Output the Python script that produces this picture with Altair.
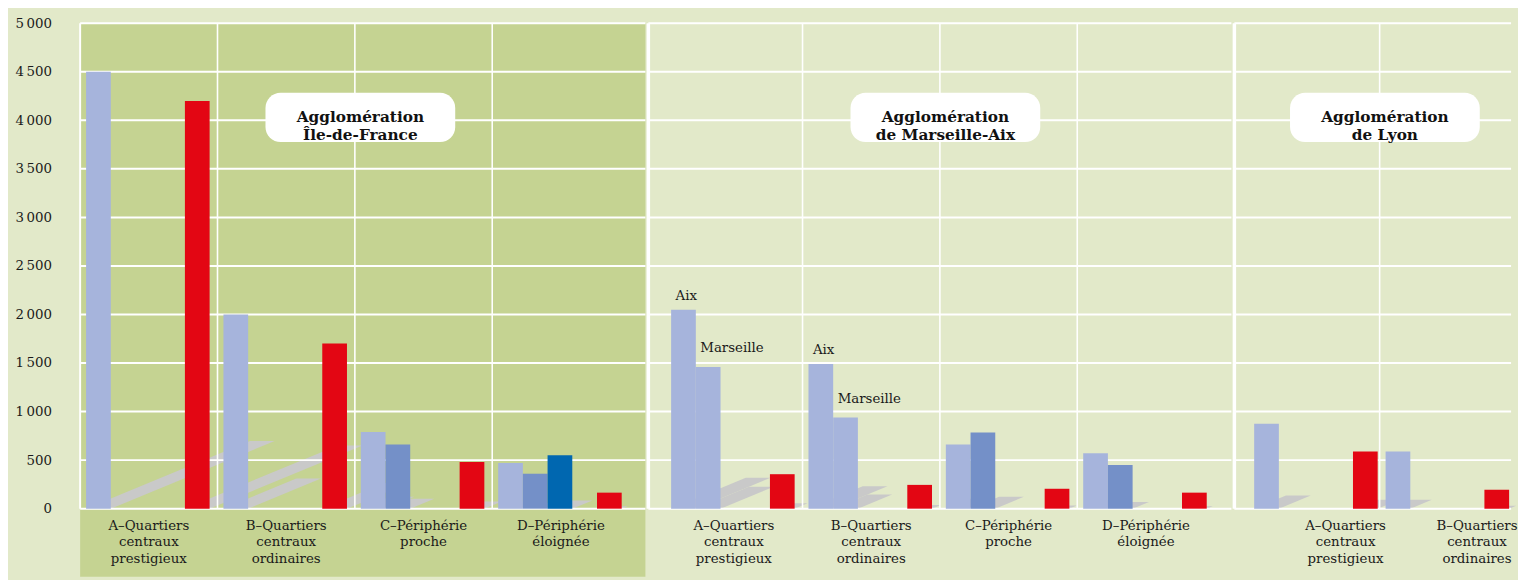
import altair as alt
import pandas as pd

# ---------------- data ----------------
cat_keys = ["A", "B", "C", "D"]
cat_labels = [
    "A–Quartiers\ncentraux\nprestigieux",
    "B–Quartiers\ncentraux\nordinaires",
    "C–Périphérie\nproche",
    "D–Périphérie\néloignée",
]

idf_bar1 = [4500, 2000, 790, 470]
idf_bar2 = [None, None, 660, 360]
idf_bar3 = [None, None, None, 550]
idf_red = [4200, 1700, 480, 165]

mar_bar1 = [2050, 1490, 660, 570]          # Aix for A and B
mar_bar2 = [1460, 940, 785, 450]           # Marseille for A and B
mar_bar2_tone = ["clair", "clair", "moyen", "moyen"]
mar_red = [355, 245, 205, 165]

lyon_keys = ["A", "B"]
lyon_bar1 = [875, 590]
lyon_red = [590, 195]

box_titles = ["Agglomération\nÎle-de-France", "Agglomération\nde Marseille-Aix", "Agglomération\nde Lyon"]
mar_notes = [("A", "p1", 2050, "Aix"), ("A", "p2", 1460, "Marseille"),
             ("B", "p1", 1490, "Aix"), ("B", "p2", 940, "Marseille")]

y_ticks = list(range(0, 5001, 500))
Y_MIN, Y_MAX = -700, 5000
PLOT_H = 560
BOX_LEVEL = 4030
LABEL_LEVEL = -178

tones = ["clair", "moyen", "fonce", "rouge"]
tone_colors = ["#a6b4dc", "#7490c8", "#0067b0", "#e30613"]

FONT = "DejaVu Serif"
BG = "#e2e9c9"
IDF_BG = "#c5d392"
SHADOW = "#c9c9c9"

BOX_PATH = ("M -0.84 -0.26 L 0.84 -0.26 A 0.16 0.16 0 0 1 1 -0.1 L 1 0.1 "
            "A 0.16 0.16 0 0 1 0.84 0.26 L -0.84 0.26 A 0.16 0.16 0 0 1 -1 0.1 "
            "L -1 -0.1 A 0.16 0.16 0 0 1 -0.84 -0.26 Z")

# shadow style: oblique projection of each bar on the floor
SH_DX, SH_DY = 0.375, 0.155    # horizontal / vertical share of the bar height
BAR_HALF = 12.5                # half bar width (px)
SH_R = 200.0                   # symbol half size (px)
PXU = PLOT_H / (Y_MAX - Y_MIN)  # px per unit of the y scale


def shadow_expr():
    hw = BAR_HALF / SH_R
    kx = SH_DX * PXU / SH_R
    ky = SH_DY * PXU / SH_R
    return (f"'M {-hw:.6f} 0 L {hw:.6f} 0 L ' + ({hw:.6f} + {kx:.8f} * datum.valeur) + ' ' + "
            f"(-{ky:.8f} * datum.valeur) + ' L ' + ({-hw:.6f} + {kx:.8f} * datum.valeur) + ' ' + "
            f"(-{ky:.8f} * datum.valeur) + ' Z'")


def bars_df(keys, series):
    rows = []
    for pos, vals, tone in series:
        for i, k in enumerate(keys):
            v = vals[i]
            if v is None:
                continue
            t = tone[i] if isinstance(tone, list) else tone
            rows.append({"cat": k, "pos": pos, "teinte": t, "valeur": v})
    return pd.DataFrame(rows)


idf_df = bars_df(cat_keys, [("p1", idf_bar1, "clair"), ("p2", idf_bar2, "moyen"),
                            ("p3", idf_bar3, "fonce"), ("r", idf_red, "rouge")])
mar_df = bars_df(cat_keys, [("p1", mar_bar1, "clair"), ("p2", mar_bar2, mar_bar2_tone),
                            ("r", mar_red, "rouge")])
lyon_df = bars_df(lyon_keys, [("p1", lyon_bar1, "clair"), ("r", lyon_red, "rouge")])

yscale = alt.Scale(domain=[Y_MIN, Y_MAX], nice=False, zero=False)
offscale = alt.Scale(domain=["p1", "p2", "p3", "p4", "r"], paddingInner=0,
                     paddingOuter=0.28, align=0.43)
color_scale = alt.Scale(domain=tones, range=tone_colors)

y_axis = alt.Axis(values=y_ticks, grid=False, ticks=False, domain=False,
                  labelPadding=29, labelFontSize=13.5, labelFont=FONT,
                  labelColor="#1a1a1a", title=None,
                  labelExpr="replace(format(datum.value, ','), ',', '\u2009')")


def make_panel(df, keys, labels, width, po, align, title, box_cat, label_dx,
               edge_width, show_axis, fill=None, notes=None):
    xscale = alt.Scale(domain=keys, paddingInner=0, paddingOuter=po, align=align)
    xenc = alt.X("cat:N", scale=xscale, axis=None)
    ax = y_axis if show_axis else None
    ysc = lambda f: alt.Y(f, scale=yscale, axis=ax)

    layers = []
    if fill:
        layers.append(alt.Chart(pd.DataFrame({"f": [0]})).mark_rect(color=fill).encode(
            x=alt.value(0), x2=alt.value("width"), y=alt.value(0), y2=alt.value("height")))

    # floor shadows of the bars
    layers.append(alt.Chart(df).transform_calculate(
        base="0", path=shadow_expr()).mark_point(
        filled=True, size=(2 * SH_R) ** 2, color=SHADOW, opacity=1, strokeWidth=0).encode(
        x=xenc,
        xOffset=alt.XOffset("pos:N", scale=offscale),
        y=ysc("base:Q"),
        shape=alt.Shape("path:N", scale=None, legend=None)))

    layers.append(alt.Chart(pd.DataFrame({"v": y_ticks})).mark_rule(
        color="white", strokeWidth=2).encode(y=ysc("v:Q")))

    layers.append(alt.Chart(pd.DataFrame({"cat": keys[1:], "y0": 0, "y1": Y_MAX})).mark_rule(
        color="white", strokeWidth=1.6).encode(
        x=alt.X("cat:N", scale=xscale, axis=None, bandPosition=0),
        y=ysc("y0:Q"), y2="y1:Q"))

    layers.append(alt.Chart(pd.DataFrame({"y0": [0], "y1": [Y_MAX]})).mark_rule(
        color="white", strokeWidth=edge_width).encode(
        x=alt.value(0), y=ysc("y0:Q"), y2="y1:Q"))

    layers.append(alt.Chart(df).mark_bar().encode(
        x=xenc,
        xOffset=alt.XOffset("pos:N", scale=offscale),
        y=ysc("valeur:Q"),
        color=alt.Color("teinte:N", scale=color_scale, legend=None),
    ))

    lab_df = pd.DataFrame({"cat": keys, "label": labels, "ly": LABEL_LEVEL})
    layers.append(alt.Chart(lab_df).mark_text(
        baseline="middle", align="center", fontSize=13.5, lineHeight=16.5,
        lineBreak="\n", font=FONT, color="#1a1a1a", dx=label_dx).encode(
        x=xenc, y=ysc("ly:Q"), text="label:N"))

    box_df = pd.DataFrame({"cat": [box_cat], "y": [BOX_LEVEL], "t": [title]})
    layers.append(alt.Chart(box_df).mark_point(
        shape=BOX_PATH, size=192 * 192, filled=True, fill="white", opacity=1,
        strokeWidth=0).encode(
        x=alt.X("cat:N", scale=xscale, axis=None, bandPosition=0.04),
        y=ysc("y:Q")))
    layers.append(alt.Chart(box_df).mark_text(
        fontSize=15.5, fontWeight="bold", lineBreak="\n", lineHeight=18,
        font=FONT, color="#111111", align="center", baseline="middle").encode(
        x=alt.X("cat:N", scale=xscale, axis=None, bandPosition=0.04),
        y=ysc("y:Q"), text="t:N"))

    if notes:
        n_df = pd.DataFrame(notes, columns=["cat", "pos", "valeur", "nom"])
        for name, dy in (("Aix", -10), ("Marseille", -15)):
            layers.append(alt.Chart(n_df[n_df["nom"] == name].reset_index(drop=True)).mark_text(
                align="left", baseline="alphabetic", fontSize=13.5, font=FONT,
                color="#1a1a1a", dx=-8, dy=dy).encode(
                x=xenc, xOffset=alt.XOffset("pos:N", scale=offscale),
                y=ysc("valeur:Q"), text="nom:N"))

    return alt.layer(*layers).properties(width=width, height=PLOT_H)


p_idf = make_panel(idf_df, cat_keys, cat_labels, 572, 0.0576, 0.0, box_titles[0],
                   "C", 0, 2, True, fill=IDF_BG)
p_mar = make_panel(mar_df, cat_keys, cat_labels, 590, 0.1223, 0.5, box_titles[1],
                   "C", 0, 3.5, False, notes=mar_notes)
p_lyon = make_panel(lyon_df, lyon_keys, cat_labels[:2], 280, 0.0526, 1.0, box_titles[2],
                    "B", 32, 3.5, False)

chart = alt.hconcat(p_idf, p_mar, p_lyon, spacing=0).properties(
    background=BG,
    padding={"left": 6, "top": 5, "right": 0, "bottom": 0},
).configure_view(strokeWidth=0)

chart.save("out.html", embed_options={"renderer": "svg", "actions": False})
